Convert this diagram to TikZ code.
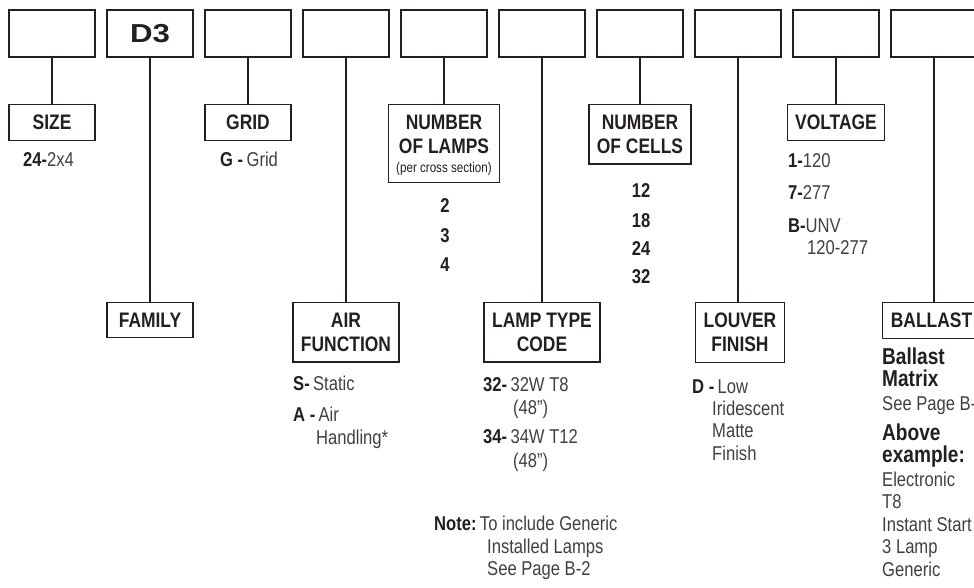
\documentclass[tikz,border=0pt]{standalone}
\usepackage{fontspec}
\setmainfont{Liberation Sans}[FakeStretch=0.83]
\newfontfamily\widefont{Liberation Sans}[FakeStretch=1.2]
\usetikzlibrary{positioning}
\definecolor{ink}{RGB}{35,31,32}
\definecolor{greyink}{RGB}{64,64,64}
\newcommand{\optkey}[1]{\textcolor{ink}{\bfseries #1}}
\newcommand{\inch}{\symbol{34}}

\begin{document}
\begin{tikzpicture}[x=1pt,y=-1pt,
  codebox/.style={draw=ink,line width=1.3pt,minimum width=86pt,minimum height=47pt,inner sep=0pt},
  headbox/.style={draw=ink,line width=1.3pt,align=center,inner xsep=8pt,inner ysep=10.5pt,minimum width=86pt,font=\fontsize{21}{24}\selectfont\bfseries,text=ink},
  opt/.style={anchor=base west,inner sep=0pt,text=greyink,font=\fontsize{20}{22}\selectfont},
  optbold/.style={opt,text=ink,font=\fontsize{23}{24}\selectfont\bfseries},
  numtext/.style={anchor=base,inner sep=0pt,text=ink,font=\fontsize{20}{22}\selectfont\bfseries},
  link/.style={draw=ink,line width=1.1pt}]
\useasboundingbox (0,0) rectangle (974,587);
% catalogue code boxes
\foreach \i in {0,...,9}
  \node[codebox] (c\i) at (52+98*\i,33.5) {};
\node[font=\widefont\fontsize{26}{28}\selectfont\bfseries,text=ink] (famcode) at (c1) {D3};
% headings
\node[headbox,below=46pt of c0] (size) {SIZE};
\node[headbox,below=244pt of c1] (family) {FAMILY};
\node[headbox,below=46pt of c2] (grid) {GRID};
\node[headbox,below=244pt of c3] (air) {AIR\\FUNCTION};
\node[headbox,below=46pt of c4] (lamps) {NUMBER\\OF LAMPS\\[-5pt]\raisebox{0pt}[\height][0pt]{\fontsize{14}{15}\selectfont\mdseries (per cross section)}};
\node[headbox,below=244pt of c5] (lamptype) {LAMP TYPE\\CODE};
\node[headbox,below=46pt of c6] (cells) {NUMBER\\OF CELLS};
\node[headbox,below=244pt of c7,xshift=2pt] (louver) {LOUVER\\FINISH};
\node[headbox,below=46pt of c8] (voltage) {VOLTAGE};
\node[headbox,below=244pt of c9,xshift=-2.5pt] (ballast) {BALLAST};
\foreach \c/\h in {c0/size,c1/family,c2/grid,c3/air,c4/lamps,c5/lamptype,c6/cells,c7/louver,c8/voltage,c9/ballast}
  \draw[link] (\c.south) -- (\c.south |- \h.north);
% choices
\node[opt] (sz24) at (23,166) {\optkey{24-}2x4};
\node[opt] (gridg) at (220,166) {\optkey{G -}\,Grid};
\foreach \n/\y in {2/212,3/242,4/271}
  \node[numtext] (lamp\n) at (445,\y) {\n};
\foreach \n/\y in {12/197,18/227,24/255,32/283}
  \node[numtext] (cell\n) at (641,\y) {\n};
\node[opt] (volt1) at (788,167) {\optkey{1-}120};
\node[opt] (volt7) at (788,199) {\optkey{7-}277};
\node[opt] (voltb) at (788,232) {\optkey{B-}UNV};
\node[opt] (voltbr) at (807,254) {120-277};
\node[opt] (airs) at (293,390) {\optkey{S-}\,Static};
\node[opt] (aira) at (293,421) {\optkey{A -}\,Air};
\node[opt] (airar) at (316,444) {Handling*};
\node[opt] (lt32) at (483,391) {\optkey{32-}\,32W T8};
\node[opt] (lt32r) at (513,414) {(48\inch)};
\node[opt] (lt34) at (483,443) {\optkey{34-}\,34W T12};
\node[opt] (lt34r) at (513,467) {(48\inch)};
\node[opt] (note) at (434,530) {\optkey{Note:}\,To include Generic};
\node[opt] (note2) at (487,553) {Installed Lamps};
\node[opt] (note3) at (487,575) {See Page B-2};
\node[opt] (louvd) at (692,393) {\optkey{D -}\,Low};
\foreach \t/\y [count=\k] in {Iridescent/415,Matte/437.5,Finish/460}
  \node[opt] (louv\k) at (712,\y) {\t};
\node[optbold] (bal1) at (882,364) {Ballast};
\node[optbold] (bal2) at (882,386) {Matrix};
\node[opt] (bal3) at (882,410) {See Page B-1};
\node[optbold] (bal4) at (882,440) {Above};
\node[optbold] (bal5) at (882,462) {example:};
\foreach \t/\y [count=\k] in {Electronic/486,T8/508.5,Instant Start/531,3 Lamp/553.5,Generic/576}
  \node[opt] (ex\k) at (882,\y) {\t};
\end{tikzpicture}
\end{document}
